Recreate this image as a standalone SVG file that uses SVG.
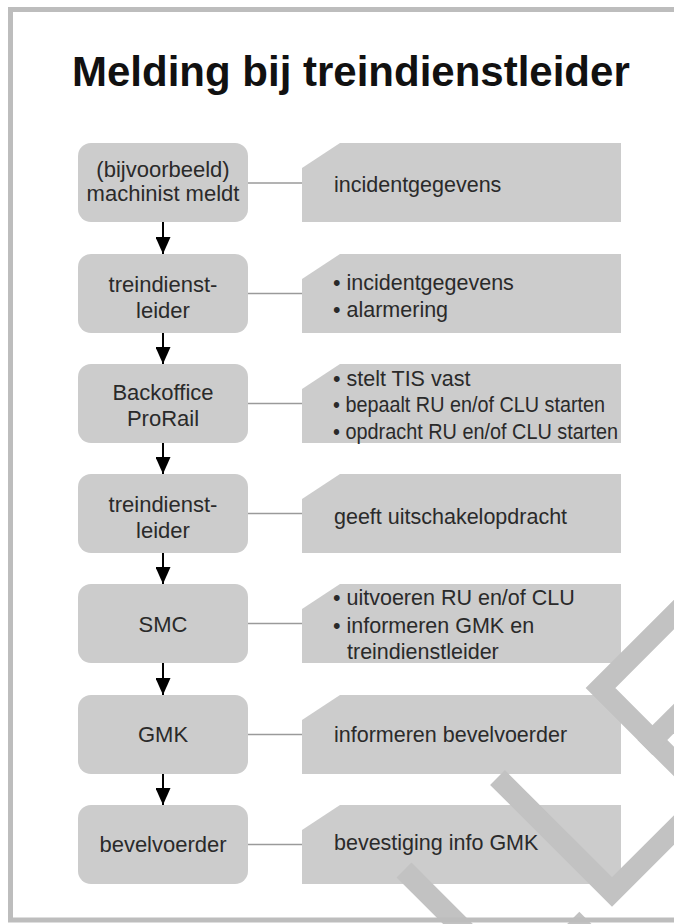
<svg xmlns="http://www.w3.org/2000/svg" width="674" height="924" viewBox="0 0 674 924">
<style>
.node{fill:#cccccc}
.lt{font-family:"Liberation Sans",Arial,sans-serif;font-size:22px;fill:#2a2a2a;text-anchor:middle}
.rt{font-family:"Liberation Sans",Arial,sans-serif;font-size:21.5px;fill:#2a2a2a}
.link{stroke:#9a9a9a;stroke-width:1.6;fill:none}
.flow{stroke:#000;stroke-width:2;fill:none;marker-end:url(#ah)}
.wm{stroke:#c2c2c2;stroke-width:21;fill:none;stroke-linejoin:miter;stroke-linecap:butt}
</style>
<defs>
<marker id="ah" viewBox="0 0 17 15" refX="17" refY="7.5" markerWidth="17" markerHeight="15" markerUnits="userSpaceOnUse" orient="auto">
<path d="M0,0 L17,7.5 L0,15 Z" fill="#000"/>
</marker>
</defs>
<rect width="674" height="924" fill="#fff"/>
<text x="72" y="86" font-family="'Liberation Sans',Arial,sans-serif" font-size="42" font-weight="bold" fill="#111">Melding bij treindienstleider</text>

<g id="connectors">
<line class="link" x1="248" y1="183" x2="302" y2="183"/>
<line class="link" x1="248" y1="293.5" x2="302" y2="293.5"/>
<line class="link" x1="248" y1="403.5" x2="302" y2="403.5"/>
<line class="link" x1="248" y1="513.5" x2="302" y2="513.5"/>
<line class="link" x1="248" y1="623.5" x2="302" y2="623.5"/>
<line class="link" x1="248" y1="734.5" x2="302" y2="734.5"/>
<line class="link" x1="248" y1="844.5" x2="302" y2="844.5"/>
<line class="flow" x1="163" y1="222" x2="163" y2="254"/>
<line class="flow" x1="163" y1="333" x2="163" y2="364"/>
<line class="flow" x1="163" y1="443" x2="163" y2="474"/>
<line class="flow" x1="163" y1="553" x2="163" y2="584"/>
<line class="flow" x1="163" y1="663" x2="163" y2="695"/>
<line class="flow" x1="163" y1="774" x2="163" y2="805"/>
</g>

<g id="n1"><rect class="node" x="78" y="143" width="170" height="79" rx="13"/>
<text class="lt" x="163" y="177">(bijvoorbeeld)</text><text class="lt" x="163" y="201">machinist meldt</text></g>
<g id="n2"><rect class="node" x="78" y="254" width="170" height="79" rx="13"/>
<text class="lt" x="163" y="292">treindienst-</text><text class="lt" x="163" y="318">leider</text></g>
<g id="n3"><rect class="node" x="78" y="364" width="170" height="79" rx="13"/>
<text class="lt" x="163" y="400">Backoffice</text><text class="lt" x="163" y="426">ProRail</text></g>
<g id="n4"><rect class="node" x="78" y="474" width="170" height="79" rx="13"/>
<text class="lt" x="163" y="512">treindienst-</text><text class="lt" x="163" y="538">leider</text></g>
<g id="n5"><rect class="node" x="78" y="584" width="170" height="79" rx="13"/>
<text class="lt" x="163" y="632">SMC</text></g>
<g id="n6"><rect class="node" x="78" y="695" width="170" height="79" rx="13"/>
<text class="lt" x="163" y="742">GMK</text></g>
<g id="n7"><rect class="node" x="78" y="805" width="170" height="79" rx="13"/>
<text class="lt" x="163" y="852">bevelvoerder</text></g>

<g id="d1"><path class="node" d="M302,168 L340,143 L621,143 L621,222 L302,222 Z"/>
<text class="rt" x="334" y="192">incidentgegevens</text></g>
<g id="d2"><path class="node" d="M302,279 L340,254 L621,254 L621,333 L302,333 Z"/>
<text class="rt" x="333" y="290">• incidentgegevens</text><text class="rt" x="333" y="317">• alarmering</text></g>
<g id="d3"><path class="node" d="M302,389 L340,364 L621,364 L621,443 L302,443 Z"/>
<text class="rt" x="333" y="386">• stelt TIS vast</text><text class="rt" x="333" y="412" textLength="272" lengthAdjust="spacingAndGlyphs">• bepaalt RU en/of CLU starten</text><text class="rt" x="333" y="439" textLength="285" lengthAdjust="spacingAndGlyphs">• opdracht RU en/of CLU starten</text></g>
<g id="d4"><path class="node" d="M302,499 L340,474 L621,474 L621,553 L302,553 Z"/>
<text class="rt" x="334" y="524">geeft uitschakelopdracht</text></g>
<g id="d5"><path class="node" d="M302,609 L340,584 L621,584 L621,663 L302,663 Z"/>
<text class="rt" x="333" y="605">• uitvoeren RU en/of CLU</text><text class="rt" x="333" y="633">• informeren GMK en</text><text class="rt" x="347" y="659">treindienstleider</text></g>
<g id="d6"><path class="node" d="M302,720 L340,695 L621,695 L621,774 L302,774 Z"/>
<text class="rt" x="334" y="742">informeren bevelvoerder</text></g>
<g id="d7"><path class="node" d="M302,830 L340,805 L621,805 L621,884 L302,884 Z"/>
<text class="rt" x="334" y="850">bevestiging info GMK</text></g>

<g id="watermark">
<polyline class="wm" points="710,578.5 600.5,688 710,797.5"/>
<polyline class="wm" points="645,747.5 710,682.5"/>
<polyline class="wm" points="497.5,777.5 612,892 710,794"/>
<polyline class="wm" points="404,870 470,936"/>
<polyline class="wm" points="530,976 579.3,926.7 628,975.5"/>
</g>
<rect x="10.5" y="9.5" width="700" height="910.5" fill="none" stroke="#bdbdbd" stroke-width="5"/>
</svg>
